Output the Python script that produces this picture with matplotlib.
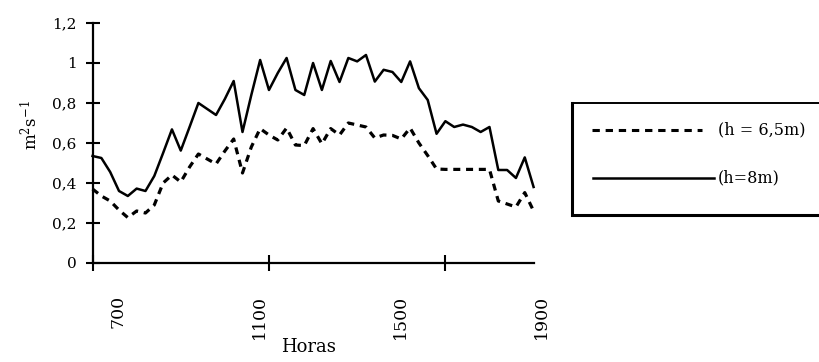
import numpy as np
import matplotlib
matplotlib.use("Agg")
import matplotlib.pyplot as plt
from matplotlib.lines import Line2D
from matplotlib.patches import Rectangle
from matplotlib.transforms import ScaledTranslation

plt.rcParams['font.family'] = ['DejaVu Serif']
plt.rcParams['mathtext.fontset'] = 'dejavuserif'

# readings every 15 min, 6:30 -> 19:00
h8 = [0.535, 0.525, 0.455, 0.36, 0.335, 0.372, 0.36, 0.435, 0.55, 0.668,
      0.562, 0.68, 0.80, 0.77, 0.74, 0.82, 0.91, 0.655, 0.84, 1.015,
      0.865, 0.95, 1.025, 0.865, 0.84, 1.0, 0.865, 1.01, 0.905, 1.025,
      1.008, 1.04, 0.907, 0.966, 0.955, 0.905, 1.008, 0.874, 0.815, 0.646,
      0.709, 0.68, 0.692, 0.68, 0.655, 0.68, 0.465, 0.465, 0.425, 0.528,
      0.38]
h65 = [0.37, 0.335, 0.31, 0.265, 0.227, 0.26, 0.25, 0.29, 0.40, 0.44,
       0.405, 0.48, 0.545, 0.52, 0.495, 0.56, 0.62, 0.45, 0.58, 0.672,
       0.64, 0.615, 0.675, 0.59, 0.587, 0.672, 0.596, 0.672, 0.64, 0.70,
       0.69, 0.68, 0.625, 0.64, 0.638, 0.62, 0.675, 0.60, 0.537, 0.47,
       0.468, 0.468, 0.468, 0.468, 0.468, 0.468, 0.31, 0.295, 0.28, 0.352,
       0.26]
hour_labels = ['700', '1100', '1500', '1900']
hour_label_idx = [2, 18, 34, 50]
tick_mark_idx = [0, 20, 40]
y_ticks = [0, 0.2, 0.4, 0.6, 0.8, 1.0, 1.2]
y_tick_labels = ['0', '0,2', '0,4', '0,6', '0,8', '1', '1,2']
legend_labels = ['(h = 6,5m)', '(h=8m)']

x = np.arange(len(h8))

fig = plt.figure(figsize=(8.19, 3.62), dpi=100)
ax = fig.add_axes([0.113, 0.2735, 0.5385, 0.663])

ax.plot(x, h8, color='black', lw=1.8, clip_on=False)
ax.plot(x, h65, color='black', lw=2.3, dashes=(2.2, 1.8), clip_on=False)

ax.set_xlim(0, len(h8) - 1)
ax.set_ylim(0, 1.2)
for s in ['top', 'right']:
    ax.spines[s].set_visible(False)
for s in ['left', 'bottom']:
    ax.spines[s].set_linewidth(1.6)

ax.set_yticks(y_ticks, y_tick_labels)
ax.tick_params(axis='y', direction='inout', length=9.5, width=1.5, pad=6.8, labelsize=11)

ax.set_xticks(tick_mark_idx, [''] * len(tick_mark_idx))
ax.set_xticks(hour_label_idx, hour_labels, minor=True)
ax.tick_params(axis='x', which='major', direction='inout', length=11, width=1.5)
ax.tick_params(axis='x', which='minor', length=0, pad=23, labelsize=12.5, labelrotation=90)
shift = ScaledTranslation(8 / 100, 0, fig.dpi_scale_trans)
for lbl in ax.get_xticklabels(minor=True):
    lbl.set_transform(lbl.get_transform() + shift)

fig.text(308 / 819, 1 - 347 / 362, 'Horas', ha='center', va='center', fontsize=13)
fig.text(31 / 819, 1 - 125 / 362, r'm$^{2}$s$^{-1}$', rotation=90,
         ha='center', va='center', fontsize=12)

# legend box, running off the right edge like the original (heavier left/bottom edge)
fig.patches.append(Rectangle((0.698, 0.406), 0.35, 0.3095, transform=fig.transFigure,
                             fill=False, edgecolor='black', lw=1.4))
fig.lines.append(Line2D([0.698, 0.698, 1.0], [0.7155, 0.406, 0.406], transform=fig.transFigure,
                        color='black', lw=2.2, solid_joinstyle='miter'))
fig.lines.append(Line2D([592 / 819, 702 / 819], [0.641, 0.641], transform=fig.transFigure,
                        color='black', lw=2.2, dashes=(2.4, 1.9)))
fig.lines.append(Line2D([593 / 819, 714 / 819], [0.508, 0.508], transform=fig.transFigure,
                        color='black', lw=1.8))
fig.text(718 / 819, 0.641, legend_labels[0], va='center', fontsize=11.5)
fig.text(718 / 819, 0.508, legend_labels[1], va='center', fontsize=11.5)

fig.savefig('out.png', dpi=100)
